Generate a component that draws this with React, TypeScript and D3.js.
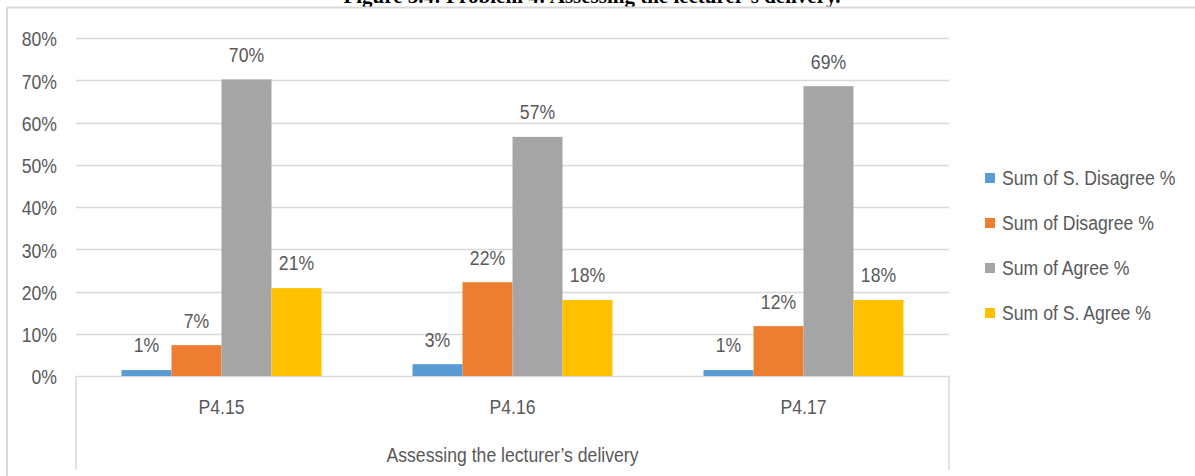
import * as d3 from "d3";

const categories = ["P4.15", "P4.16", "P4.17"];
const seriesNames = [
  "Sum of S. Disagree %",
  "Sum of Disagree %",
  "Sum of Agree %",
  "Sum of S. Agree %",
];
const sDisagree = [1.4, 2.8, 1.4];
const disagree = [7.3, 22.2, 11.8];
const agree = [70.2, 56.6, 68.6];
const sAgree = [20.8, 18.0, 18.0];
const yTicks = [0, 10, 20, 30, 40, 50, 60, 70, 80];
const colors = ["#5b9bd5", "#ed7d31", "#a5a5a5", "#ffc000"];
const axisTitle = "Assessing the lecturer\u2019s delivery";
const figTitle = "Figure 5.4: Problem 4: Assessing the lecturer\u2019s delivery.";

const W = 1195;
const H = 476;
const font = "'Liberation Sans', Arial, sans-serif";
const textColor = "#595959";
const gridColor = "#d9d9d9";
const squeeze = 0.84; // the original uses a narrow font

// condensed text, drawn at (x, y)
const Label = ({
  x,
  y,
  anchor = "start",
  children,
}: {
  x: number;
  y: number;
  anchor?: "start" | "middle" | "end";
  children: React.ReactNode;
}) => (
  <g transform={`translate(${x},${y}) scale(${squeeze},1)`}>
    <text x={0} y={0} dy="0.35em" textAnchor={anchor} fontSize={21} fill={textColor}>
      {children}
    </text>
  </g>
);

export default function App() {
  const series = [sDisagree, disagree, agree, sAgree];
  const plot = { left: 76, right: 949, top: 38, bottom: 376 };

  const x = d3.scaleBand<string>().domain(categories).range([plot.left, plot.right]).padding(0);
  const xi = d3
    .scaleBand<number>()
    .domain(d3.range(series.length))
    .range([0, x.bandwidth()])
    .paddingInner(0)
    .paddingOuter(0.91);
  const y = d3.scaleLinear().domain([0, 80]).range([plot.bottom, plot.top]);

  return (
    <svg
      width={W}
      height={H}
      style={{ position: "absolute", left: 0, top: 0, background: "#fff" }}
      fontFamily={font}
    >
      {/* caption above the chart, cut off at the top like the source */}
      <text
        x={592}
        y={3}
        textAnchor="middle"
        fontFamily="'Liberation Serif', 'Times New Roman', serif"
        fontWeight="bold"
        fontSize={21}
        fill="#000"
      >
        {figTitle}
      </text>

      {/* chart frame */}
      <line x1={7} x2={W} y1={7.5} y2={7.5} stroke={gridColor} strokeWidth={2} />
      <line x1={7} x2={7} y1={7} y2={H} stroke={gridColor} strokeWidth={2} />

      {/* gridlines and y ticks */}
      {yTicks.map((t) => (
        <g key={t}>
          <line
            x1={plot.left}
            x2={plot.right}
            y1={Math.round(y(t)) + 0.5}
            y2={Math.round(y(t)) + 0.5}
            stroke={gridColor}
            strokeWidth={1.5}
          />
          <Label x={57} y={y(t) + 1} anchor="end">
            {t}%
          </Label>
        </g>
      ))}

      {/* category axis box lines */}
      <line x1={plot.left} x2={plot.left} y1={plot.bottom} y2={470} stroke={gridColor} strokeWidth={1.5} />
      <line x1={plot.right} x2={plot.right} y1={plot.bottom} y2={470} stroke={gridColor} strokeWidth={1.5} />

      {/* bars */}
      {categories.map((c, ci) => (
        <g key={c}>
          {series.map((vals, si) => {
            const v = vals[ci];
            const bx = (x(c) as number) + (xi(si) as number);
            return (
              <g key={si}>
                <rect
                  x={bx}
                  y={y(v)}
                  width={xi.bandwidth()}
                  height={y(0) - y(v)}
                  fill={colors[si]}
                />
                <Label x={bx + xi.bandwidth() / 2} y={y(v) - 25} anchor="middle">
                  {Math.round(v)}%
                </Label>
              </g>
            );
          })}
          <Label x={(x(c) as number) + x.bandwidth() / 2} y={407} anchor="middle">
            {c}
          </Label>
        </g>
      ))}

      <Label x={(plot.left + plot.right) / 2} y={455} anchor="middle">
        {axisTitle}
      </Label>

      {/* legend */}
      {seriesNames.map((name, i) => (
        <g key={name}>
          <rect x={985} y={178 + i * 45 - 5} width={10} height={10} fill={colors[i]} />
          <Label x={1002} y={178 + i * 45}>
            {name}
          </Label>
        </g>
      ))}
    </svg>
  );
}
